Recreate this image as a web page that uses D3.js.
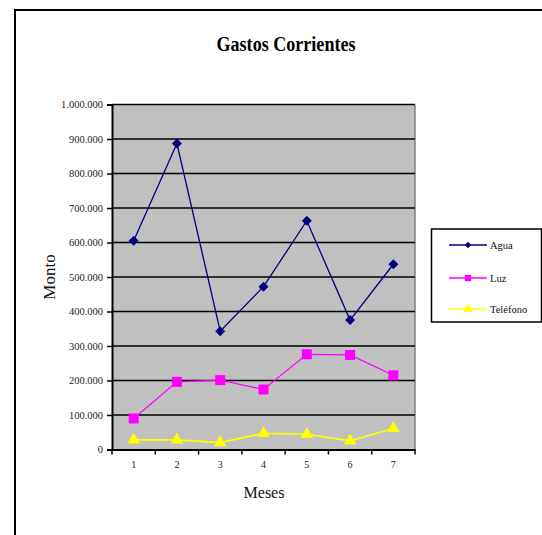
<!DOCTYPE html>
<html><head><meta charset="utf-8">
<script src="https://cdn.jsdelivr.net/npm/d3@7"></script>
<style>body{margin:0;background:#fff;}svg{display:block;}</style>
</head><body>
<svg id="c" width="542" height="535"></svg>
<script>
const months = ["1","2","3","4","5","6","7"];
const agua = [605000, 887000, 343000, 472000, 663000, 375000, 537000];
const luz = [90000, 196000, 201000, 174000, 276000, 274000, 215000];
const telefono = [28000, 28000, 20000, 47000, 44000, 25000, 61000];
const yTicks = [0,100000,200000,300000,400000,500000,600000,700000,800000,900000,1000000];
const seriesNames = ["Agua","Luz","Teléfono"];
const seriesColors = ["#000080","#ff00ff","#ffff00"];
const FF = "Liberation Serif";

const svg = d3.select("#c");
svg.append("path").attr("d","M15,535 V10 H542").attr("fill","none").attr("stroke","#000").attr("stroke-width",2);

const L=112, R=415, T=104.5, B=449.5;
const x = d3.scaleBand().domain(months).range([L,R]);
const y = d3.scaleLinear().domain([0,1000000]).range([B,T]);

svg.append("rect").attr("x",L).attr("y",T).attr("width",R-L).attr("height",B-T).attr("fill","#c0c0c0");
svg.append("line").attr("x1",R).attr("x2",R).attr("y1",T).attr("y2",B).attr("stroke","#808080").attr("stroke-width",1.5);
svg.append("g").selectAll("line").data(yTicks.slice(1)).join("line")
  .attr("x1",L).attr("x2",R).attr("y1",d=>y(d)).attr("y2",d=>y(d))
  .attr("stroke","#000").attr("stroke-width",1.3);

const fmt = d3.formatLocale({decimal:",",thousands:".",grouping:[3],currency:["$",""]}).format(",.0f");
const yAxis = svg.append("g").attr("transform",`translate(${L},0)`)
  .call(d3.axisLeft(y).tickValues(yTicks).tickFormat(fmt).tickSize(5).tickPadding(4));
yAxis.attr("font-family",FF);
yAxis.select(".domain").attr("stroke-width",2);
yAxis.selectAll("line").attr("stroke-width",1.5);
yAxis.selectAll("text").attr("font-size",10.5).attr("fill","#222").attr("font-family",FF);

const xAxis = svg.append("g").attr("transform",`translate(0,${B})`)
  .call(d3.axisBottom(x).tickSize(0).tickPadding(11));
xAxis.attr("font-family",FF);
xAxis.select(".domain").attr("stroke-width",2);
xAxis.selectAll("text").attr("font-size",10).attr("fill","#222").attr("font-family",FF);
svg.append("g").selectAll("line").data(months.concat(["end"])).join("line")
  .attr("x1",(d,i)=>L+i*x.step()).attr("x2",(d,i)=>L+i*x.step())
  .attr("y1",B).attr("y2",B+5).attr("stroke","#000").attr("stroke-width",1.5);

const data = [agua,luz,telefono];
const widths = [1.3,1.2,1.6];
const line = d3.line().x((d,i)=>x(months[i])+x.bandwidth()/2).y(d=>y(d));
const symTypes = [d3.symbolSquare, d3.symbolSquare, d3.symbolTriangle];
const symSizes = [50, 100, 70];
data.forEach((vals,k)=>{
  svg.append("path").attr("d",line(vals)).attr("fill","none").attr("stroke",seriesColors[k]).attr("stroke-width",widths[k]);
  svg.append("g").selectAll("path").data(vals).join("path")
    .attr("d",d3.symbol().type(symTypes[k]).size(symSizes[k])())
    .attr("transform",(d,i)=>`translate(${x(months[i])+x.bandwidth()/2},${y(d)})${k===0?" rotate(45)":""}`)
    .attr("fill",seriesColors[k]);
});

svg.append("text").attr("x",286).attr("y",51).attr("text-anchor","middle").attr("font-size",20).attr("font-weight","bold")
  .attr("textLength",139).attr("lengthAdjust","spacingAndGlyphs").attr("font-family",FF).text("Gastos Corrientes");
svg.append("text").attr("x",264).attr("y",498).attr("text-anchor","middle").attr("font-size",16).attr("fill","#111").attr("font-family",FF).text("Meses");
svg.append("text").attr("transform","translate(55,277) rotate(-90)").attr("text-anchor","middle").attr("font-size",17).attr("fill","#111").attr("font-family",FF).text("Monto");

const lg = svg.append("g");
lg.append("rect").attr("x",431.5).attr("y",229).attr("width",110).attr("height",93).attr("fill","#fff").attr("stroke","#000").attr("stroke-width",1.5);
const ly = [245,278,309];
const legSizes = [20,40,40];
seriesNames.forEach((n,k)=>{
  lg.append("line").attr("x1",449).attr("x2",487).attr("y1",ly[k]).attr("y2",ly[k]).attr("stroke",seriesColors[k]).attr("stroke-width",1.5);
  lg.append("path").attr("d",d3.symbol().type(symTypes[k]).size(legSizes[k])())
    .attr("transform",`translate(468,${ly[k]})${k===0?" rotate(45)":""}`).attr("fill",seriesColors[k]);
  lg.append("text").attr("x",490).attr("y",ly[k]+3.5).attr("font-size",10.5).attr("fill","#111").attr("font-family",FF).text(n);
});
</script>
</body></html>
